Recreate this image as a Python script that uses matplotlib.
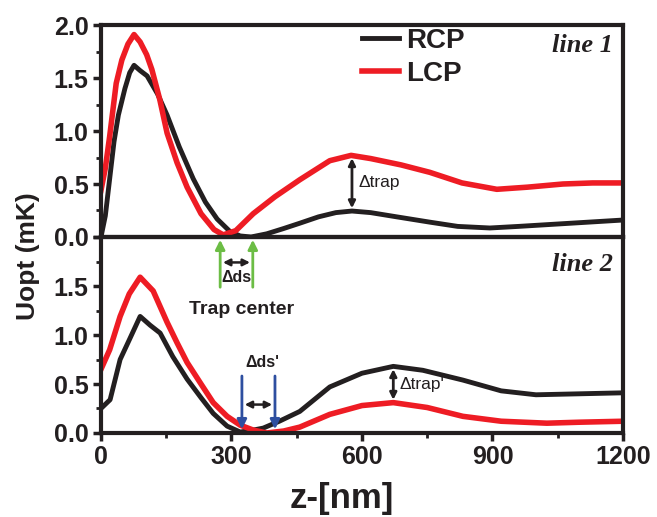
import matplotlib
matplotlib.use("Agg")
import matplotlib.pyplot as plt
from matplotlib.ticker import MultipleLocator

plt.rcParams["font.family"] = ["Liberation Sans", "DejaVu Sans"]
plt.rcParams["font.weight"] = "bold"
plt.rcParams["text.color"] = "#231f20"
plt.rcParams["xtick.color"] = "#231f20"
plt.rcParams["ytick.color"] = "#231f20"

# line 1 (top panel)
z_rcp1 = [0, 10, 20, 30, 40, 55, 66, 76, 90, 106, 130, 152, 180, 212, 240, 267, 297, 320, 345,
          381, 420, 457, 500, 540, 577, 620, 680, 756, 820, 894, 960, 1040, 1120, 1200]
u_rcp1 = [0.0, 0.2, 0.55, 0.9, 1.15, 1.40, 1.55, 1.62, 1.57, 1.52, 1.35, 1.15, 0.85, 0.55, 0.33,
          0.17, 0.05, 0.01, 0.0, 0.03, 0.08, 0.13, 0.19, 0.23, 0.245, 0.23, 0.19, 0.14, 0.10,
          0.085, 0.10, 0.12, 0.14, 0.16]
z_lcp1 = [0, 10, 20, 35, 48, 62, 76, 90, 105, 117, 135, 152, 175, 198, 230, 260, 281,
          310, 350, 400, 457, 526, 575, 620, 690, 756, 830, 910, 980, 1062, 1130, 1200]
u_lcp1 = [0.44, 0.65, 0.95, 1.45, 1.67, 1.82, 1.91, 1.84, 1.72, 1.58, 1.30, 0.98, 0.70, 0.47,
          0.22, 0.07, 0.02, 0.06, 0.22, 0.38, 0.54, 0.72, 0.77, 0.74, 0.68, 0.61, 0.51, 0.45,
          0.47, 0.50, 0.51, 0.51]

# line 2 (bottom panel)
z_rcp2 = [0, 21, 44, 65, 90, 113, 136, 165, 198, 230, 258, 290, 320, 350, 373,
          410, 457, 526, 600, 672, 740, 832, 920, 1000, 1100, 1200]
u_rcp2 = [0.25, 0.34, 0.75, 0.95, 1.19, 1.10, 1.02, 0.78, 0.55, 0.36, 0.20, 0.07, 0.01, 0.03,
          0.05, 0.12, 0.22, 0.47, 0.61, 0.68, 0.64, 0.54, 0.43, 0.39, 0.40, 0.41]
z_lcp2 = [0, 20, 44, 65, 90, 120, 152, 175, 198, 230, 258, 290, 320, 350, 381,
          420, 457, 526, 600, 672, 750, 832, 920, 1025, 1100, 1200]
u_lcp2 = [0.65, 0.85, 1.19, 1.42, 1.59, 1.45, 1.13, 0.92, 0.72, 0.50, 0.31, 0.17, 0.08, 0.03,
          0.0, 0.02, 0.06, 0.19, 0.28, 0.31, 0.26, 0.17, 0.12, 0.10, 0.11, 0.12]

x_ticks = [0, 300, 600, 900, 1200]
y_ticks = [0.0, 0.5, 1.0, 1.5, 2.0]

# annotation positions (z in nm)
ds_z = [274, 349]
ds2_z = [324, 400]
trap_z = 577
trap2_z = 672

fig = plt.figure(figsize=(6.57, 5.17), dpi=100)
ax1 = fig.add_axes([0.1537, 0.5416, 0.7945, 0.41])
ax2 = fig.add_axes([0.1537, 0.1625, 0.7945, 0.379])
ax2.patch.set_visible(False)

for ax in (ax1, ax2):
    ax.set_xlim(0, 1200)
    ax.set_ylim(0, 2.0)
    ax.set_yticks(y_ticks)
    ax.yaxis.set_minor_locator(MultipleLocator(0.25))
    ax.xaxis.set_minor_locator(MultipleLocator(150))
    for s in ax.spines.values():
        s.set_linewidth(3)
        s.set_color("#231f20")
    ax.tick_params(which="major", length=6, width=2.5, labelsize=18, pad=3)
    ax.tick_params(which="minor", length=3.5, width=2)

ax1.plot(z_rcp1, u_rcp1, color="#231f20", lw=3.5, label="RCP")
ax1.plot(z_lcp1, u_lcp1, color="#ee1c24", lw=4, label="LCP")
ax1.set_xticks(x_ticks)
ax1.tick_params(axis="x", which="both", length=0, labelbottom=False)
ax1.set_yticklabels(["0.0", "0.5", "1.0", "1.5", "2.0"])

ax2.plot(z_rcp2, u_rcp2, color="#231f20", lw=3.5)
ax2.plot(z_lcp2, u_lcp2, color="#ee1c24", lw=4)
ax2.set_xticks(x_ticks)
ax2.set_yticklabels(["0.0", "0.5", "1.0", "1.5", ""])

ax1.legend(loc="upper left", bbox_to_anchor=(0.5, 0.985), frameon=False,
           fontsize=20, handlelength=1.35, handletextpad=0.25, labelspacing=0.25,
           borderpad=0, borderaxespad=0)

ax1.text(0.98, 0.905, "line 1", transform=ax1.transAxes, ha="right", va="center",
         family="Liberation Serif", style="italic", fontsize=19, weight="bold")
ax2.text(0.98, 0.86, "line 2", transform=ax2.transAxes, ha="right", va="center",
         family="Liberation Serif", style="italic", fontsize=19, weight="bold")

# delta trap arrows
ax1.annotate("", xy=(trap_z, 0.77), xytext=(trap_z, 0.245),
             arrowprops=dict(arrowstyle="<|-|>", color="#231f20", lw=2, mutation_scale=10))
ax1.text(trap_z + 14, 0.51, "\u0394trap", fontsize=12.5, weight="normal", va="center")
ax2.annotate("", xy=(trap2_z, 0.68), xytext=(trap2_z, 0.31),
             arrowprops=dict(arrowstyle="<|-|>", color="#231f20", lw=2, mutation_scale=10))
ax2.text(trap2_z + 14, 0.50, "\u0394trap'", fontsize=12.5, weight="normal", va="center")

# trap centre arrows (green, line 1)
for z in ds_z:
    ax1.annotate("", xy=(z, 0.0), xytext=(z, -0.5), annotation_clip=False,
                 arrowprops=dict(arrowstyle="-|>", color="#6cbd45", lw=2, mutation_scale=14))
ax1.annotate("", xy=(ds_z[0], -0.24), xytext=(ds_z[1], -0.24), annotation_clip=False,
             arrowprops=dict(arrowstyle="<|-|>", color="#231f20", lw=1.8, mutation_scale=10))
ax2.text(sum(ds_z) / 2, 1.59, "\u0394ds", fontsize=11.5, ha="center", va="center")
ax2.text(324, 1.26, "Trap center", fontsize=14, ha="center", va="center")

# blue arrows (line 2)
for z in ds2_z:
    ax2.annotate("", xy=(z, 0.01), xytext=(z, 0.61),
                 arrowprops=dict(arrowstyle="-|>", color="#2e4fa0", lw=2, mutation_scale=14))
ax2.annotate("", xy=(ds2_z[0], 0.29), xytext=(ds2_z[1], 0.29),
             arrowprops=dict(arrowstyle="<|-|>", color="#231f20", lw=1.8, mutation_scale=10))
ax2.text(370, 0.72, "\u0394ds'", fontsize=11.5, ha="center", va="center")

fig.text(0.043, 0.505, "Uopt (mK)", rotation=90, ha="center", va="center", fontsize=19)
fig.text(0.52, 0.035, "z-[nm]", ha="center", va="center", fontsize=25)

fig.savefig("out.png", dpi=100)
